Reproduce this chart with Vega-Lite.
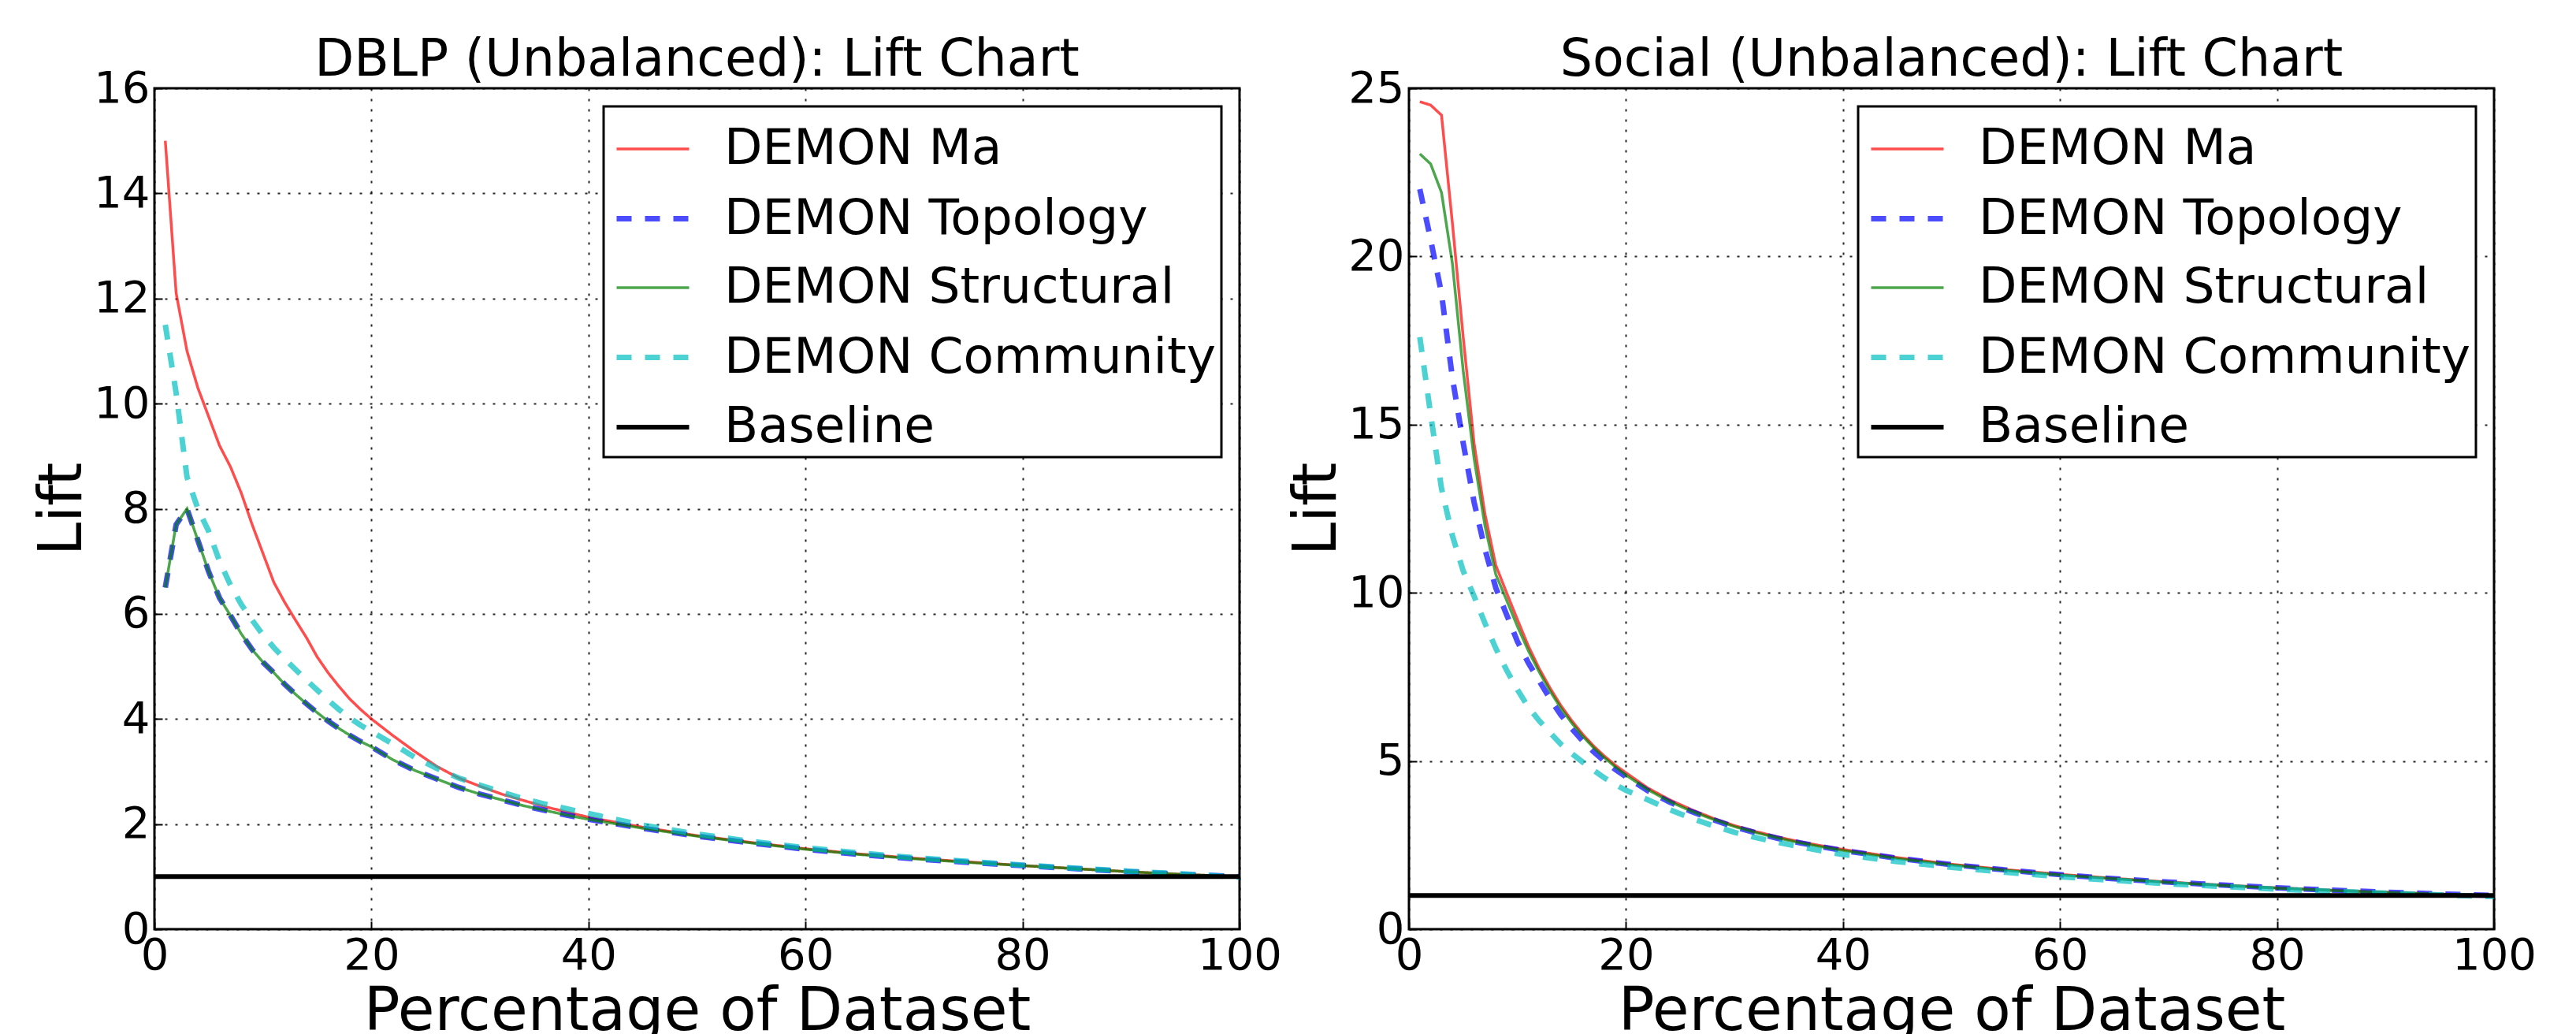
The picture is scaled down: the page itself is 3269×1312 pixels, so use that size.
{
  "$schema": "https://vega.github.io/schema/vega-lite/v6.json",
  "background": "white",
  "padding": {"left": 40, "top": 42, "right": 5, "bottom": 0},
  "datasets": {
    "dblp": [
      {"x":0,"Baseline":1},
      {"x":1,"DEMON Ma":15.0,"DEMON Topology":6.5,"DEMON Structural":6.5,"DEMON Community":11.5,"Baseline":1},
      {"x":2,"DEMON Ma":12.1,"DEMON Topology":7.7,"DEMON Structural":7.7,"DEMON Community":10.2,"Baseline":1},
      {"x":3,"DEMON Ma":11.0,"DEMON Topology":8.0,"DEMON Structural":8.0,"DEMON Community":8.6,"Baseline":1},
      {"x":4,"DEMON Ma":10.3,"DEMON Topology":7.4,"DEMON Structural":7.4,"DEMON Community":8.0,"Baseline":1},
      {"x":5,"DEMON Ma":9.75,"DEMON Topology":6.8,"DEMON Structural":6.8,"DEMON Community":7.57,"Baseline":1},
      {"x":6,"DEMON Ma":9.2,"DEMON Topology":6.3,"DEMON Structural":6.3,"DEMON Community":7.0,"Baseline":1},
      {"x":7,"DEMON Ma":8.8,"DEMON Topology":5.97,"DEMON Structural":5.97,"DEMON Community":6.55,"Baseline":1},
      {"x":8,"DEMON Ma":8.3,"DEMON Topology":5.62,"DEMON Structural":5.62,"DEMON Community":6.18,"Baseline":1},
      {"x":9,"DEMON Ma":7.7,"DEMON Topology":5.32,"DEMON Structural":5.32,"DEMON Community":5.88,"Baseline":1},
      {"x":10,"DEMON Ma":7.15,"DEMON Topology":5.08,"DEMON Structural":5.08,"DEMON Community":5.6,"Baseline":1},
      {"x":11,"DEMON Ma":6.6,"DEMON Topology":4.88,"DEMON Structural":4.88,"DEMON Community":5.36,"Baseline":1},
      {"x":12,"DEMON Ma":6.22,"DEMON Topology":4.66,"DEMON Structural":4.66,"DEMON Community":5.14,"Baseline":1},
      {"x":13,"DEMON Ma":5.88,"DEMON Topology":4.47,"DEMON Structural":4.47,"DEMON Community":4.94,"Baseline":1},
      {"x":14,"DEMON Ma":5.55,"DEMON Topology":4.29,"DEMON Structural":4.29,"DEMON Community":4.74,"Baseline":1},
      {"x":15,"DEMON Ma":5.18,"DEMON Topology":4.12,"DEMON Structural":4.12,"DEMON Community":4.55,"Baseline":1},
      {"x":16,"DEMON Ma":4.88,"DEMON Topology":3.96,"DEMON Structural":3.96,"DEMON Community":4.36,"Baseline":1},
      {"x":17,"DEMON Ma":4.62,"DEMON Topology":3.82,"DEMON Structural":3.82,"DEMON Community":4.18,"Baseline":1},
      {"x":18,"DEMON Ma":4.38,"DEMON Topology":3.69,"DEMON Structural":3.69,"DEMON Community":4.02,"Baseline":1},
      {"x":19,"DEMON Ma":4.18,"DEMON Topology":3.57,"DEMON Structural":3.57,"DEMON Community":3.88,"Baseline":1},
      {"x":20,"DEMON Ma":4.0,"DEMON Topology":3.47,"DEMON Structural":3.47,"DEMON Community":3.76,"Baseline":1},
      {"x":22,"DEMON Ma":3.68,"DEMON Topology":3.22,"DEMON Structural":3.22,"DEMON Community":3.52,"Baseline":1},
      {"x":24,"DEMON Ma":3.38,"DEMON Topology":3.02,"DEMON Structural":3.02,"DEMON Community":3.27,"Baseline":1},
      {"x":26,"DEMON Ma":3.1,"DEMON Topology":2.86,"DEMON Structural":2.86,"DEMON Community":3.06,"Baseline":1},
      {"x":28,"DEMON Ma":2.88,"DEMON Topology":2.7,"DEMON Structural":2.7,"DEMON Community":2.88,"Baseline":1},
      {"x":30,"DEMON Ma":2.72,"DEMON Topology":2.57,"DEMON Structural":2.57,"DEMON Community":2.74,"Baseline":1},
      {"x":32,"DEMON Ma":2.57,"DEMON Topology":2.46,"DEMON Structural":2.46,"DEMON Community":2.61,"Baseline":1},
      {"x":34,"DEMON Ma":2.45,"DEMON Topology":2.35,"DEMON Structural":2.35,"DEMON Community":2.48,"Baseline":1},
      {"x":36,"DEMON Ma":2.33,"DEMON Topology":2.26,"DEMON Structural":2.26,"DEMON Community":2.38,"Baseline":1},
      {"x":38,"DEMON Ma":2.23,"DEMON Topology":2.17,"DEMON Structural":2.17,"DEMON Community":2.29,"Baseline":1},
      {"x":40,"DEMON Ma":2.13,"DEMON Topology":2.09,"DEMON Structural":2.09,"DEMON Community":2.2,"Baseline":1},
      {"x":45,"DEMON Ma":1.94,"DEMON Topology":1.92,"DEMON Structural":1.92,"DEMON Community":1.98,"Baseline":1},
      {"x":50,"DEMON Ma":1.78,"DEMON Topology":1.77,"DEMON Structural":1.77,"DEMON Community":1.81,"Baseline":1},
      {"x":55,"DEMON Ma":1.65,"DEMON Topology":1.64,"DEMON Structural":1.64,"DEMON Community":1.67,"Baseline":1},
      {"x":60,"DEMON Ma":1.53,"DEMON Topology":1.52,"DEMON Structural":1.52,"DEMON Community":1.55,"Baseline":1},
      {"x":65,"DEMON Ma":1.43,"DEMON Topology":1.42,"DEMON Structural":1.42,"DEMON Community":1.45,"Baseline":1},
      {"x":70,"DEMON Ma":1.35,"DEMON Topology":1.34,"DEMON Structural":1.34,"DEMON Community":1.36,"Baseline":1},
      {"x":75,"DEMON Ma":1.28,"DEMON Topology":1.27,"DEMON Structural":1.27,"DEMON Community":1.29,"Baseline":1},
      {"x":80,"DEMON Ma":1.21,"DEMON Topology":1.21,"DEMON Structural":1.21,"DEMON Community":1.22,"Baseline":1},
      {"x":85,"DEMON Ma":1.15,"DEMON Topology":1.15,"DEMON Structural":1.15,"DEMON Community":1.16,"Baseline":1},
      {"x":90,"DEMON Ma":1.09,"DEMON Topology":1.09,"DEMON Structural":1.09,"DEMON Community":1.1,"Baseline":1},
      {"x":95,"DEMON Ma":1.04,"DEMON Topology":1.04,"DEMON Structural":1.04,"DEMON Community":1.05,"Baseline":1},
      {"x":100,"DEMON Ma":1.0,"DEMON Topology":1.0,"DEMON Structural":1.0,"DEMON Community":0.99,"Baseline":1}
    ],
    "social": [
      {"x":0,"Baseline":1},
      {"x":1,"DEMON Ma":24.6,"DEMON Topology":22.0,"DEMON Structural":23.05,"DEMON Community":17.6,"Baseline":1},
      {"x":2,"DEMON Ma":24.5,"DEMON Topology":20.5,"DEMON Structural":22.75,"DEMON Community":15.3,"Baseline":1},
      {"x":3,"DEMON Ma":24.2,"DEMON Topology":18.9,"DEMON Structural":21.9,"DEMON Community":13.1,"Baseline":1},
      {"x":4,"DEMON Ma":21.0,"DEMON Topology":16.4,"DEMON Structural":19.8,"DEMON Community":11.7,"Baseline":1},
      {"x":5,"DEMON Ma":17.6,"DEMON Topology":14.45,"DEMON Structural":16.6,"DEMON Community":10.65,"Baseline":1},
      {"x":6,"DEMON Ma":14.45,"DEMON Topology":12.7,"DEMON Structural":14.0,"DEMON Community":9.9,"Baseline":1},
      {"x":7,"DEMON Ma":12.35,"DEMON Topology":11.3,"DEMON Structural":12.0,"DEMON Community":9.1,"Baseline":1},
      {"x":8,"DEMON Ma":10.82,"DEMON Topology":10.15,"DEMON Structural":10.55,"DEMON Community":8.35,"Baseline":1},
      {"x":9,"DEMON Ma":10.0,"DEMON Topology":9.35,"DEMON Structural":9.78,"DEMON Community":7.7,"Baseline":1},
      {"x":10,"DEMON Ma":9.2,"DEMON Topology":8.55,"DEMON Structural":9.0,"DEMON Community":7.12,"Baseline":1},
      {"x":11,"DEMON Ma":8.42,"DEMON Topology":7.92,"DEMON Structural":8.28,"DEMON Community":6.6,"Baseline":1},
      {"x":12,"DEMON Ma":7.75,"DEMON Topology":7.38,"DEMON Structural":7.65,"DEMON Community":6.2,"Baseline":1},
      {"x":13,"DEMON Ma":7.17,"DEMON Topology":6.85,"DEMON Structural":7.08,"DEMON Community":5.84,"Baseline":1},
      {"x":14,"DEMON Ma":6.65,"DEMON Topology":6.37,"DEMON Structural":6.57,"DEMON Community":5.5,"Baseline":1},
      {"x":15,"DEMON Ma":6.2,"DEMON Topology":5.96,"DEMON Structural":6.13,"DEMON Community":5.22,"Baseline":1},
      {"x":16,"DEMON Ma":5.8,"DEMON Topology":5.6,"DEMON Structural":5.74,"DEMON Community":4.97,"Baseline":1},
      {"x":17,"DEMON Ma":5.45,"DEMON Topology":5.28,"DEMON Structural":5.4,"DEMON Community":4.73,"Baseline":1},
      {"x":18,"DEMON Ma":5.15,"DEMON Topology":5.0,"DEMON Structural":5.1,"DEMON Community":4.5,"Baseline":1},
      {"x":19,"DEMON Ma":4.88,"DEMON Topology":4.75,"DEMON Structural":4.83,"DEMON Community":4.3,"Baseline":1},
      {"x":20,"DEMON Ma":4.65,"DEMON Topology":4.53,"DEMON Structural":4.58,"DEMON Community":4.13,"Baseline":1},
      {"x":22,"DEMON Ma":4.2,"DEMON Topology":4.12,"DEMON Structural":4.15,"DEMON Community":3.85,"Baseline":1},
      {"x":24,"DEMON Ma":3.85,"DEMON Topology":3.78,"DEMON Structural":3.8,"DEMON Community":3.56,"Baseline":1},
      {"x":26,"DEMON Ma":3.56,"DEMON Topology":3.5,"DEMON Structural":3.51,"DEMON Community":3.3,"Baseline":1},
      {"x":28,"DEMON Ma":3.3,"DEMON Topology":3.26,"DEMON Structural":3.27,"DEMON Community":3.08,"Baseline":1},
      {"x":30,"DEMON Ma":3.08,"DEMON Topology":3.04,"DEMON Structural":3.05,"DEMON Community":2.88,"Baseline":1},
      {"x":32,"DEMON Ma":2.9,"DEMON Topology":2.86,"DEMON Structural":2.87,"DEMON Community":2.72,"Baseline":1},
      {"x":34,"DEMON Ma":2.74,"DEMON Topology":2.7,"DEMON Structural":2.71,"DEMON Community":2.58,"Baseline":1},
      {"x":36,"DEMON Ma":2.6,"DEMON Topology":2.57,"DEMON Structural":2.57,"DEMON Community":2.45,"Baseline":1},
      {"x":38,"DEMON Ma":2.48,"DEMON Topology":2.45,"DEMON Structural":2.45,"DEMON Community":2.33,"Baseline":1},
      {"x":40,"DEMON Ma":2.37,"DEMON Topology":2.34,"DEMON Structural":2.34,"DEMON Community":2.22,"Baseline":1},
      {"x":45,"DEMON Ma":2.13,"DEMON Topology":2.11,"DEMON Structural":2.1,"DEMON Community":2.01,"Baseline":1},
      {"x":50,"DEMON Ma":1.93,"DEMON Topology":1.92,"DEMON Structural":1.91,"DEMON Community":1.84,"Baseline":1},
      {"x":55,"DEMON Ma":1.77,"DEMON Topology":1.76,"DEMON Structural":1.75,"DEMON Community":1.69,"Baseline":1},
      {"x":60,"DEMON Ma":1.63,"DEMON Topology":1.62,"DEMON Structural":1.61,"DEMON Community":1.56,"Baseline":1},
      {"x":65,"DEMON Ma":1.51,"DEMON Topology":1.5,"DEMON Structural":1.5,"DEMON Community":1.45,"Baseline":1},
      {"x":70,"DEMON Ma":1.4,"DEMON Topology":1.4,"DEMON Structural":1.39,"DEMON Community":1.35,"Baseline":1},
      {"x":75,"DEMON Ma":1.31,"DEMON Topology":1.31,"DEMON Structural":1.3,"DEMON Community":1.27,"Baseline":1},
      {"x":80,"DEMON Ma":1.23,"DEMON Topology":1.23,"DEMON Structural":1.22,"DEMON Community":1.19,"Baseline":1},
      {"x":85,"DEMON Ma":1.16,"DEMON Topology":1.16,"DEMON Structural":1.15,"DEMON Community":1.13,"Baseline":1},
      {"x":90,"DEMON Ma":1.1,"DEMON Topology":1.1,"DEMON Structural":1.09,"DEMON Community":1.07,"Baseline":1},
      {"x":95,"DEMON Ma":1.05,"DEMON Topology":1.05,"DEMON Structural":1.04,"DEMON Community":1.02,"Baseline":1},
      {"x":100,"DEMON Ma":1.0,"DEMON Topology":1.0,"DEMON Structural":1.0,"DEMON Community":0.97,"Baseline":1}
    ]
  },
  "config": {
    "font": "DejaVu Sans",
    "view": {"stroke": "black", "strokeWidth": 3},
    "axis": {
      "domain": false, "ticks": true, "tickSize": -10, "tickColor": "black", "tickWidth": 2, "grid": true,
      "gridColor": "black", "gridDash": [3, 10], "gridWidth": 2, "gridOpacity": 0.85,
      "labelFont": "DejaVu Sans", "labelFontSize": 56, "labelColor": "black", "labelPadding": 16,
      "titleFont": "DejaVu Sans", "titleFontSize": 76, "titleFontWeight": "normal", "titleColor": "black"
    },
    "axisX": {"titlePadding": 6, "labelFlush": false, "labelPadding": 16},
    "axisY": {"titlePadding": 0},
    "title": {"font": "DejaVu Sans", "fontSize": 65, "fontWeight": "normal", "color": "black", "offset": -26},
    "legend": {
      "orient": "top-right", "offset": 23, "padding": 6,
      "fillColor": "white", "strokeColor": "black", "strokeWidth": 3,
      "labelFont": "DejaVu Sans", "labelFontSize": 63, "labelColor": "black", "labelOffset": 41, "labelLimit": 0,
      "symbolType": "stroke", "symbolSize": 8464, "symbolOffset": 7, "rowPadding": 7
    }
  },
  "bounds": "flush",
  "spacing": 215,
  "resolve": {
    "scale": {"x": "independent", "y": "independent", "color": "independent", "strokeDash": "independent", "strokeWidth": "independent"},
    "legend": {"color": "independent", "strokeDash": "independent", "strokeWidth": "independent"}
  },
  "hconcat": [
    {
      "title": "DBLP (Unbalanced): Lift Chart",
      "width": 1377, "height": 1067,
      "data": {"name": "dblp"},
      "transform": [{"fold": ["DEMON Ma", "DEMON Topology", "DEMON Structural", "DEMON Community", "Baseline"], "as": ["s", "y"]}],
      "mark": {"type": "line"},
      "encoding": {
        "x": {"field": "x", "type": "quantitative", "scale": {"domain": [0, 100], "nice": false}, "axis": {"values": [0, 20, 40, 60, 80, 100], "format": "d", "title": "Percentage of Dataset"}},
        "y": {"field": "y", "type": "quantitative", "scale": {"domain": [0, 16], "nice": false}, "axis": {"values": [0, 2, 4, 6, 8, 10, 12, 14, 16], "format": "d", "title": "Lift"}},
        "color": {"field": "s", "type": "nominal", "sort": null, "scale": {"domain": ["DEMON Ma", "DEMON Topology", "DEMON Structural", "DEMON Community", "Baseline"], "range": ["rgba(255,0,0,0.7)", "rgba(0,0,255,0.7)", "rgba(0,128,0,0.7)", "rgba(0,191,191,0.7)", "black"]}, "legend": {"title": null}},
        "strokeDash": {"field": "s", "type": "nominal", "sort": null, "scale": {"domain": ["DEMON Ma", "DEMON Topology", "DEMON Structural", "DEMON Community", "Baseline"], "range": [[1, 0], [19, 17], [1, 0], [19, 17], [1, 0]]}, "legend": {"title": null}},
        "strokeWidth": {"field": "s", "type": "nominal", "sort": null, "scale": {"type": "ordinal", "domain": ["DEMON Ma", "DEMON Topology", "DEMON Structural", "DEMON Community", "Baseline"], "range": [3.5, 7, 3.5, 7, 6]}, "legend": null}
      }
    },
    {
      "title": "Social (Unbalanced): Lift Chart",
      "width": 1377, "height": 1067,
      "data": {"name": "social"},
      "transform": [{"fold": ["DEMON Ma", "DEMON Topology", "DEMON Structural", "DEMON Community", "Baseline"], "as": ["s", "y"]}],
      "mark": {"type": "line"},
      "encoding": {
        "x": {"field": "x", "type": "quantitative", "scale": {"domain": [0, 100], "nice": false}, "axis": {"values": [0, 20, 40, 60, 80, 100], "format": "d", "title": "Percentage of Dataset"}},
        "y": {"field": "y", "type": "quantitative", "scale": {"domain": [0, 25], "nice": false}, "axis": {"values": [0, 5, 10, 15, 20, 25], "format": "d", "title": "Lift"}},
        "color": {"field": "s", "type": "nominal", "sort": null, "scale": {"domain": ["DEMON Ma", "DEMON Topology", "DEMON Structural", "DEMON Community", "Baseline"], "range": ["rgba(255,0,0,0.7)", "rgba(0,0,255,0.7)", "rgba(0,128,0,0.7)", "rgba(0,191,191,0.7)", "black"]}, "legend": {"title": null}},
        "strokeDash": {"field": "s", "type": "nominal", "sort": null, "scale": {"domain": ["DEMON Ma", "DEMON Topology", "DEMON Structural", "DEMON Community", "Baseline"], "range": [[1, 0], [19, 17], [1, 0], [19, 17], [1, 0]]}, "legend": {"title": null}},
        "strokeWidth": {"field": "s", "type": "nominal", "sort": null, "scale": {"type": "ordinal", "domain": ["DEMON Ma", "DEMON Topology", "DEMON Structural", "DEMON Community", "Baseline"], "range": [3.5, 7, 3.5, 7, 6]}, "legend": null}
      }
    }
  ]
}
